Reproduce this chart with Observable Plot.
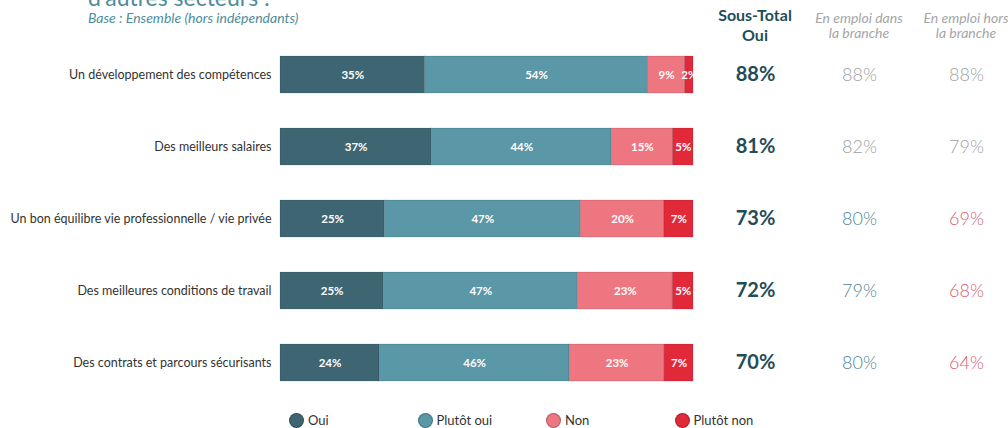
<!DOCTYPE html>
<html>
<head>
<meta charset="utf-8">
<script src="https://cdn.jsdelivr.net/npm/d3@7"></script>
<script src="https://cdn.jsdelivr.net/npm/@observablehq/plot@0.6"></script>
<style>
  html, body { margin: 0; padding: 0; background: #fff; }
  body { width: 1008px; height: 428px; position: relative; overflow: hidden; font-family: Lato, "Open Sans", sans-serif; }
  .abs { position: absolute; }
  #title { left: 88px; top: -14px; font-size: 23px; line-height: 23px; color: #4e8c9a; white-space: nowrap; }
  #subtitle { left: 88px; top: 9px; font-size: 14px; font-style: italic; color: #4e8c9a; white-space: nowrap; }
  .hdr { text-align: center; white-space: nowrap; }
  #h1 { left: 705px; width: 100px; top: 5px; font-size: 16px; line-height: 20px; font-weight: 700; color: #1f4d59; }
  #h2, #h3 { width: 110px; top: 10px; font-size: 14px; line-height: 15px; font-style: italic; color: #a5a5a5; }
  #h2 { left: 804px; }
  #h3 { left: 911px; }
  #chart { left: 0; top: 0; }
  #legend { left: 289px; top: 412px; display: flex; }
  .li { width: 128.5px; display: flex; align-items: center; font-size: 13px; color: #333; }
  .dot { width: 15px; height: 15px; border-radius: 50%; margin-right: 4px; box-sizing: border-box; border: 1px solid rgba(0,0,0,0.25); }
</style>
</head>
<body>
<div id="title" class="abs">d’autres secteurs :</div>
<div id="subtitle" class="abs">Base : Ensemble (hors indépendants)</div>
<div id="h1" class="abs hdr">Sous-Total<br>Oui</div>
<div id="h2" class="abs hdr">En emploi dans<br>la branche</div>
<div id="h3" class="abs hdr">En emploi hors<br>la branche</div>
<div id="chart" class="abs"></div>
<div id="legend" class="abs"></div>
<script>
// ---- data ----
const items = [
  "Un développement des compétences",
  "Des meilleurs salaires",
  "Un bon équilibre vie professionnelle / vie privée",
  "Des meilleures conditions de travail",
  "Des contrats et parcours sécurisants"
];
const answers = ["Oui", "Plutôt oui", "Non", "Plutôt non"];
const colors = ["#3e6672", "#5a97a7", "#ee7680", "#e2293a"];
const oui = [35, 37, 25, 25, 24];
const plutotOui = [54, 44, 47, 47, 46];
const non = [9, 15, 20, 23, 23];
const plutotNon = [2, 5, 7, 5, 7];
const sousTotal = [88, 81, 73, 72, 70];
const dansBranche = [88, 82, 80, 79, 80];
const horsBranche = [88, 79, 69, 68, 64];
// significance vs total: "ns" neutral, "plus" higher, "moins" lower
const dansSig = ["ns", "ns", "plus", "plus", "plus"];
const horsSig = ["ns", "ns", "moins", "moins", "moins"];

const series = [oui, plutotOui, non, plutotNon];
const long = [];
items.forEach((item, i) => answers.forEach((a, j) => long.push({item, answer: a, value: series[j][i]})));
const rows = items.map((item, i) => ({item, sous: sousTotal[i], dans: dansBranche[i], hors: horsBranche[i], dSig: dansSig[i], hSig: horsSig[i]}));

const sigColor = {ns: "#a0a0a0", plus: "#4e8695", moins: "#d9606d"};

const colMark = (field, sigField, dx) => Object.keys(sigColor).map(s =>
  Plot.text(rows, {
    filter: d => sigField ? d[sigField] === s : s === "ns",
    y: "item", text: d => d[field] + "%", frameAnchor: "right", textAnchor: "middle", dx,
    fill: sigField ? sigColor[s] : "#1f4d59",
    fontSize: sigField ? 18 : 20, fontWeight: sigField ? 300 : 700
  })
);

const chart = Plot.plot({
  width: 1008,
  height: 400,
  marginLeft: 280,
  marginRight: 315,
  marginTop: 36,
  marginBottom: 0,
  style: {fontFamily: "Lato, 'Open Sans', sans-serif", fontSize: "12px", color: "#333", background: "transparent"},
  x: {domain: [0, 1], axis: null},
  y: {domain: items, paddingInner: 0.49, paddingOuter: 0.25, label: null},
  color: {domain: answers, range: colors},
  marks: [
    Plot.axisY({tickSize: 0, tickPadding: 9, fontSize: 12.5, label: null}),
    Plot.barX(long, Plot.stackX({x: "value", y: "item", fill: "answer", order: answers, offset: "normalize", stroke: "#000", strokeOpacity: 0.12, strokeWidth: 1})),
    Plot.text(long, Plot.stackX({x: "value", y: "item", z: "answer", order: answers, offset: "normalize", text: d => d.value + "%", fill: "white", fontWeight: 700, fontSize: 11.5})),
    ...colMark("sous", null, 62),
    ...colMark("dans", "dSig", 166),
    ...colMark("hors", "hSig", 273)
  ]
});
document.getElementById("chart").appendChild(chart);

const legend = document.getElementById("legend");
answers.forEach((a, i) => {
  const li = document.createElement("div");
  li.className = "li";
  li.innerHTML = `<span class="dot" style="background:${colors[i]}"></span><span>${a}</span>`;
  legend.appendChild(li);
});
</script>
</body>
</html>
